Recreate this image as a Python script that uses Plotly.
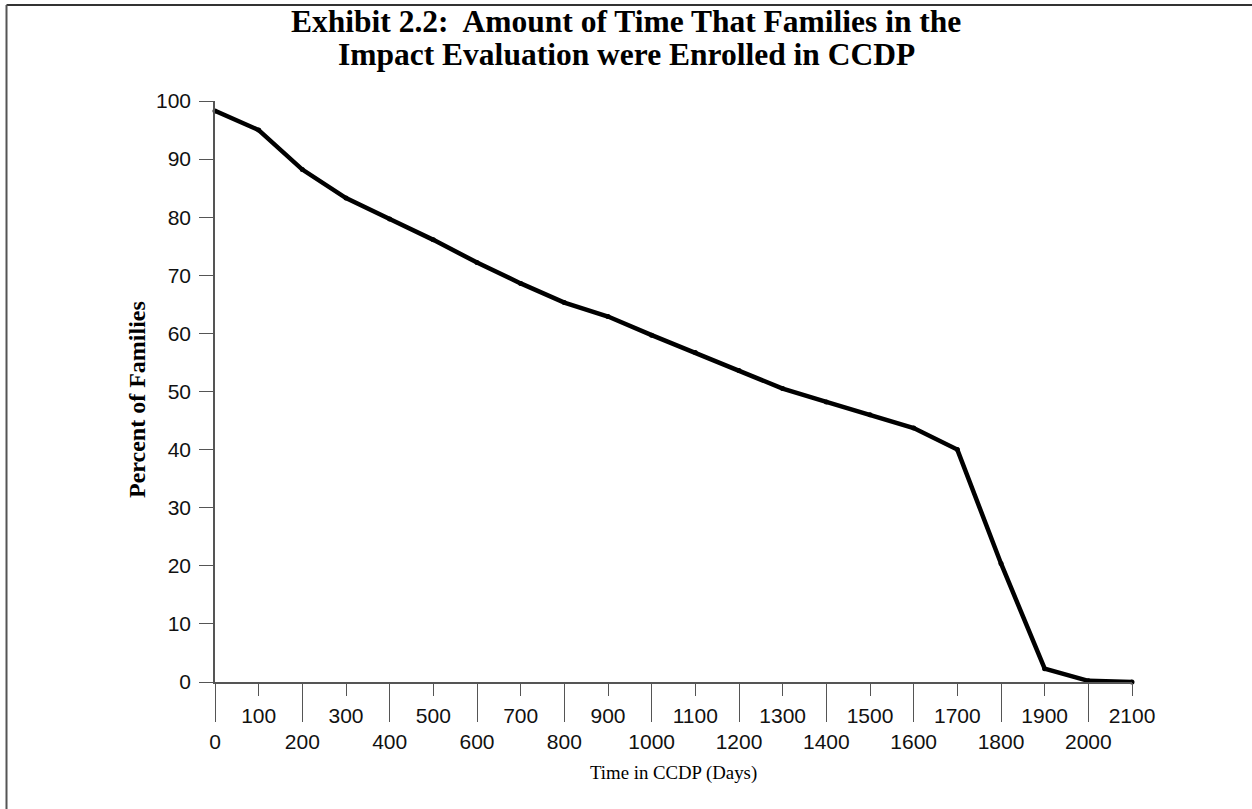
import plotly.graph_objects as go

days = [0, 100, 200, 300, 400, 500, 600, 700, 800, 900, 1000,
        1100, 1200, 1300, 1400, 1500, 1600, 1700, 1800, 1900, 2000, 2100]
percent = [98.3, 95.0, 88.2, 83.3, 79.7, 76.1, 72.2, 68.6, 65.3, 62.9, 59.7,
           56.7, 53.6, 50.5, 48.2, 46.0, 43.7, 40.0, 20.4, 2.3, 0.2, 0.0]

even_ticks = list(range(0, 2101, 200))
odd_ticks = list(range(100, 2101, 200))
y_ticks = list(range(0, 101, 10))

title_line1 = "Exhibit 2.2:  Amount of Time That Families in the"
title_line2 = "Impact Evaluation were Enrolled in CCDP"
x_title = "Time in CCDP (Days)"
y_title = "Percent of Families"

W, H = 1252, 809
L, R, T, B = 215, 120, 101, 127
PW, PH = W - L - R, H - T - B

def px(x):
    return (x - L) / PW

def py(y):
    return (H - B - y) / PH

serif = "Liberation Serif, Times New Roman, serif"
sans = "Liberation Sans, Arial, sans-serif"
axis_col = "#555555"

fig = go.Figure()
fig.add_trace(go.Scatter(
    x=days, y=percent, mode="lines+markers",
    line=dict(color="black", width=4.5),
    marker=dict(color="black", size=5),
    cliponaxis=False, showlegend=False, hoverinfo="x+y"))
fig.add_trace(go.Scatter(
    x=days, y=percent, xaxis="x2", mode="lines", opacity=0,
    showlegend=False, hoverinfo="skip"))

fig.update_layout(
    width=W, height=H,
    margin=dict(l=L, r=R, t=T, b=B, autoexpand=False),
    paper_bgcolor="white", plot_bgcolor="white",
    xaxis=dict(range=[0, 2100], tickvals=even_ticks,
               ticktext=[str(v) for v in even_ticks],
               ticks="outside", ticklen=38, tickwidth=1, tickcolor=axis_col,
               showline=True, linecolor=axis_col, linewidth=1.5,
               showgrid=False, zeroline=False, ticklabelstandoff=2,
               tickfont=dict(family=sans, size=21, color="#111111")),
    xaxis2=dict(range=[0, 2100], overlaying="x", anchor="y", side="bottom",
                tickvals=odd_ticks, ticktext=[str(v) for v in odd_ticks],
                ticks="outside", ticklen=13, tickwidth=1, tickcolor=axis_col,
                showline=False, showgrid=False, zeroline=False, ticklabelstandoff=2,
                tickfont=dict(family=sans, size=21, color="#111111")),
    yaxis=dict(range=[0, 100], tickvals=y_ticks,
               ticks="outside", ticklen=14, tickwidth=1, tickcolor=axis_col,
               showline=True, linecolor=axis_col, linewidth=1.5,
               showgrid=False, zeroline=False, ticklabelstandoff=4,
               tickfont=dict(family=sans, size=21, color="#111111")),
    annotations=[
        dict(text=f"<b>{title_line1}</b>", x=px(626), y=py(22), xref="paper", yref="paper",
             showarrow=False, xanchor="center", yanchor="middle",
             font=dict(family=serif, size=31.5, color="black")),
        dict(text=f"<b>{title_line2}</b>", x=px(626), y=py(54), xref="paper", yref="paper",
             showarrow=False, xanchor="center", yanchor="middle",
             font=dict(family=serif, size=31.5, color="black")),
        dict(text=x_title, x=px(673), y=py(773), xref="paper", yref="paper",
             showarrow=False, xanchor="center", yanchor="middle",
             font=dict(family=serif, size=18.8, color="black")),
        dict(text=f"<b>{y_title}</b>", x=px(137), y=py(400), xref="paper", yref="paper",
             showarrow=False, xanchor="center", yanchor="middle", textangle=-90,
             font=dict(family=serif, size=24, color="black")),
    ],
    shapes=[
        dict(type="line", xref="paper", yref="paper",
             x0=px(6.5), x1=px(W + 5), y0=py(5), y1=py(5),
             line=dict(color="#333333", width=2)),
        dict(type="line", xref="paper", yref="paper",
             x0=px(6.5), x1=px(6.5), y0=py(5), y1=py(H + 5),
             line=dict(color="#555555", width=2)),
    ],
)

fig.write_html("out.html", config={"displayModeBar": False},
               post_script="document.body.style.margin='0';document.body.style.padding='0';")
